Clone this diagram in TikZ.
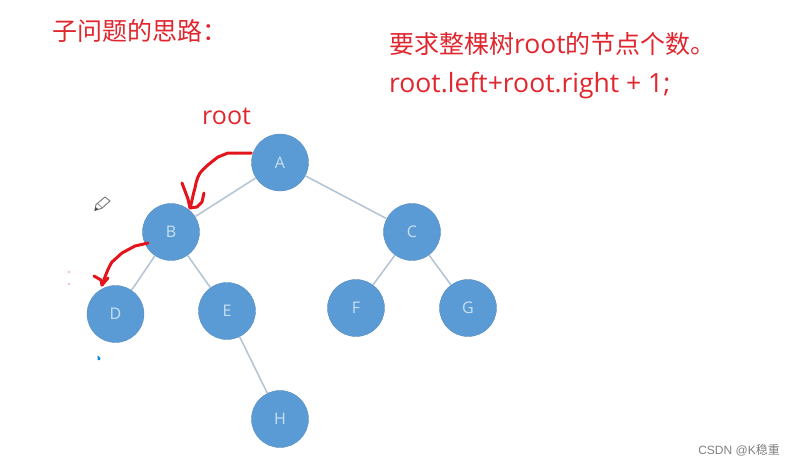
\documentclass[tikz,border=0pt]{standalone}
\usepackage{fontspec}
\setmainfont{Noto Sans CJK SC}
\newfontfamily\latfont{Open Sans}
\newfontfamily\wmfont{Liberation Sans}
\usepackage{xcolor}
\definecolor{knotblue}{HTML}{5B9BD5}
\definecolor{knotrand}{HTML}{5A8DBD}
\definecolor{knottext}{HTML}{C9E0F2}
\definecolor{kante}{HTML}{B5C6D6}
\definecolor{rottext}{HTML}{E0262E}
\definecolor{rotstift}{HTML}{E3141C}
\tikzset{
  knot/.style={draw=knotrand,fill=knotblue,circle,inner sep=0pt,minimum size=57pt,text=knottext,font=\latfont\fontsize{16}{16}\selectfont},
  kant/.style={draw=kante,line width=1.6pt},
  titel/.style={text=rottext,anchor=west,inner sep=0pt,font=\fontsize{25}{25}\selectfont},
  stift/.style={draw=rotstift,line width=3pt,line cap=round,line join=round}
}
\begin{document}
\begin{tikzpicture}[x=1pt,y=-1pt]
\useasboundingbox (0,0) rectangle (796,466);

%Texte
\node[titel] (frage) at (52,31) {子问题的思路：};
\node[titel] (ziel) at (389,44) {要求整棵树{\latfont\fontsize{26.5}{26.5}\selectfont root}的节点个数。};
\node[titel] (formel) at (389,86) {\latfont\fontsize{26.5}{26.5}\selectfont root.left+root.right + 1;};
\node[titel] (wurzel) at (202,116) {\latfont root};

%Knoten
\node[knot] (A) at (280,162.5) {A};
\node[knot] (B) at (171,232) {B};
\node[knot] (C) at (412,232) {C};
\node[knot] (D) at (115.5,314) {D};
\node[knot] (E) at (227,311) {E};
\node[knot] (F) at (356,308) {F};
\node[knot] (G) at (468,308) {G};
\node[knot] (H) at (280,419) {H};

%Kanten
\draw[kant] (A) -- (B);
\draw[kant] (A) -- (C);
\draw[kant] (B) -- (D);
\draw[kant] (B) -- (E);
\draw[kant] (C) -- (F);
\draw[kant] (C) -- (G);
\draw[kant] (E) -- (H);

%Pfeile
\coordinate (spitzeB) at (190,208);
\coordinate (spitzeD) at (102,285);
\draw[stift] (A.west |- 0,153) -- (228,153) -- (218,157) .. controls (210,163) and (204,168) .. (200,173) .. controls (196,180) and (196,184) .. (195,188) .. controls (193,194) and (192,202) .. (spitzeB);
\draw[stift] (182,183) -- (188,199) -- (spitzeB) -- (197,207) -- (202,202) -- (204,193);
\draw[stift] (148,243) -- (135,246) -- (122,253) -- (112,262) .. controls (108,268) and (105,277) .. (spitzeD);
\draw[stift] (94,276) -- (101,280) -- (spitzeD) -- (108,278);

%Stift
\draw[gray,line width=1pt,fill=white] (95,210) -- (96,204.5) -- (105,197) -- (110,201) -- (101.5,208.5) -- cycle;
\draw[gray,line width=0.7pt] (97.5,203.5) -- (102.5,208);
\fill[black!70] (94.5,211) -- (95.5,207) -- (98.5,209.5) -- cycle;

%Flecken
\fill[rottext!60] (69,272) circle (0.8pt);
\fill[rottext!60] (69,284) circle (0.8pt);
\fill[cyan!70!blue] (97.5,355) -- (100.5,358) -- (100,360) -- (97.5,360) -- cycle;

%Wasserzeichen
\node[anchor=east,inner sep=0pt,text=black!50,font=\fontsize{12}{12}\selectfont] (marke) at (780,450) {{\wmfont CSDN @K}稳重};
\end{tikzpicture}
\end{document}
